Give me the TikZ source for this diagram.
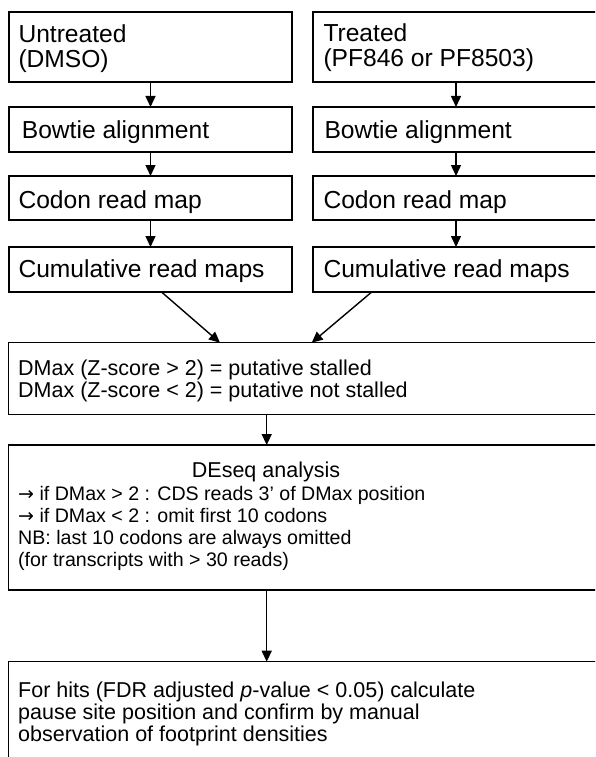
\documentclass[tikz,border=0pt]{standalone}
\usepackage{fontspec}
\setmainfont{Liberation Sans}
\newfontfamily\arrowfont{DejaVu Sans}
\usetikzlibrary{arrows.meta}
\newcommand{\rarr}{{\arrowfont\fontsize{19}{22}\selectfont →}}
\begin{document}
\begin{tikzpicture}[x=1pt,y=-1pt,
  box/.style={draw, line width=1.2pt, inner sep=0pt, outer sep=0pt, anchor=north west},
  big/.style={font=\fontsize{24.6}{25}\selectfont, inner sep=0pt, anchor=base west},
  small/.style={font=\fontsize{21.5}{22}\selectfont, inner sep=0pt, anchor=base west},
  smaller/.style={font=\fontsize{19.6}{22}\selectfont, inner sep=0pt, anchor=base west},
  arr/.style={line width=1.4pt, -{Triangle[length=11pt,width=10pt]}}]
\useasboundingbox (0,0) rectangle (595,757);
\clip (0,0) rectangle (595,757);
% left column
\node[box, minimum width=283pt, minimum height=70pt] (L1) at (9,12) {};
\node[box, minimum width=283pt, minimum height=45pt] (L2) at (9,107) {};
\node[box, minimum width=283pt, minimum height=44pt] (L3) at (9,176) {};
\node[box, minimum width=283pt, minimum height=45pt] (L4) at (9,247) {};
% right column
\node[box, minimum width=286pt, minimum height=70pt] (R1) at (313,12) {};
\node[box, minimum width=286pt, minimum height=45pt] (R2) at (313,107) {};
\node[box, minimum width=286pt, minimum height=44pt] (R3) at (313,176) {};
\node[box, minimum width=286pt, minimum height=45pt] (R4) at (313,247) {};
% lower boxes
\node[box, minimum width=600pt, minimum height=71.6pt] (B5) at (8.5,342.7) {};
\node[box, minimum width=600pt, minimum height=145pt] (B6) at (8.5,445) {};
\node[box, minimum width=600pt, minimum height=150pt] (B7) at (8.5,661.7) {};
% texts
\node[big] (tL1a) at (18.3,42.3) {Untreated};
\node[big] (tL1b) at (18.3,67.7) {(DMSO)};
\node[big] (tL2) at (21.7,138.3) {Bowtie alignment};
\node[big] (tL3) at (18.3,208.3) {Codon read map};
\node[big] (tL4) at (18.3,277) {Cumulative read maps};
\node[big] (tR1a) at (323.3,41.5) {Treated};
\node[big] (tR1b) at (323.3,67) {(PF846 or PF8503)};
\node[big] (tR2) at (324.3,138.3) {Bowtie alignment};
\node[big] (tR3) at (323.3,208.3) {Codon read map};
\node[big] (tR4) at (323.3,277) {Cumulative read maps};
\node[small] (t5a) at (18,375.5) {DMax (Z-score > 2) = putative stalled};
\node[small] (t5b) at (18,397.5) {DMax (Z-score < 2) = putative not stalled};
\node[small, anchor=base] (t6a) at (266,477.5) {DEseq analysis};
\node[smaller] (t6b) at (18,500) {\rarr{} if DMax > 2 : CDS reads 3’ of DMax position};
\node[smaller] (t6c) at (18,522) {\rarr{} if DMax < 2 : omit first 10 codons};
\node[smaller] (t6d) at (18,544) {NB: last 10 codons are always omitted};
\node[smaller] (t6e) at (18,566) {(for transcripts with > 30 reads)};
\node[small] (t7a) at (18,697) {For hits (FDR adjusted \textit{p}-value < 0.05) calculate};
\node[small] (t7b) at (18,719) {pause site position and confirm by manual};
\node[small] (t7c) at (18,741) {observation of footprint densities};
% arrows
\draw[arr] (L1.south) -- (L2.north);
\draw[arr] (L2.south) -- (L3.north);
\draw[arr] (L3.south) -- (L4.north);
\draw[arr] (R1.south) -- (R2.north);
\draw[arr] (R2.south) -- (R3.north);
\draw[arr] (R3.south) -- (R4.north);
\draw[arr] ([xshift=11pt]L4.south) -- ([xshift=211.5pt]B5.north west);
\draw[arr] ([xshift=-84.3pt]R4.south) -- ([xshift=303.2pt]B5.north west);
\draw[arr] ([xshift=258.2pt]B5.south west) -- ([xshift=258.2pt]B6.north west);
\draw[arr] ([xshift=258.2pt]B6.south west) -- ([xshift=258.2pt]B7.north west);
\end{tikzpicture}
\end{document}
